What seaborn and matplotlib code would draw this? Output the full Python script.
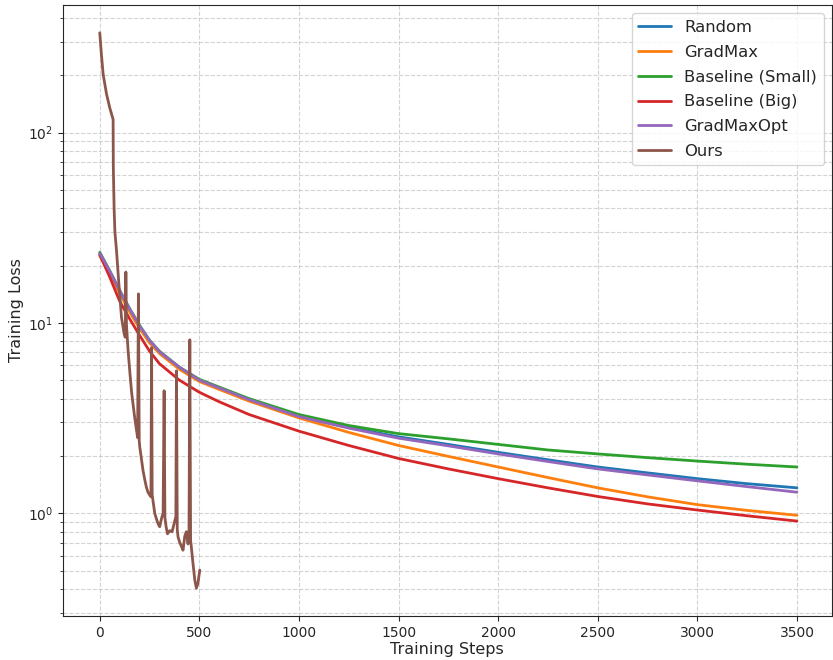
import numpy as np
import pandas as pd
import matplotlib
matplotlib.use("Agg")
import matplotlib.pyplot as plt
import seaborn as sns

methods = ["Random", "GradMax", "Baseline (Small)", "Baseline (Big)", "GradMaxOpt", "Ours"]

steps = [0, 50, 100, 150, 200, 250, 300, 400, 500, 600, 750, 1000, 1250, 1500,
         1750, 2000, 2250, 2500, 2750, 3000, 3250, 3500]

random_loss = [23.0, 18.5, 14.6, 11.7, 9.55, 8.0, 7.0, 5.8, 4.97, 4.52, 3.92, 3.22, 2.83, 2.52,
               2.30, 2.09, 1.91, 1.75, 1.63, 1.52, 1.43, 1.36]
gradmax_loss = [22.5, 18.3, 14.3, 11.4, 9.35, 7.85, 6.9, 5.7, 4.92, 4.47, 3.88, 3.17, 2.66, 2.27,
                1.99, 1.75, 1.54, 1.36, 1.22, 1.11, 1.035, 0.976]
small_loss = [23.5, 18.8, 14.8, 11.9, 9.7, 8.1, 7.1, 5.85, 5.05, 4.6, 4.0, 3.30, 2.89, 2.62,
              2.46, 2.30, 2.15, 2.05, 1.96, 1.88, 1.81, 1.75]
big_loss = [22.8, 17.4, 13.0, 10.5, 8.6, 7.1, 6.1, 5.0, 4.32, 3.85, 3.3, 2.70, 2.27, 1.94,
            1.71, 1.52, 1.36, 1.225, 1.12, 1.04, 0.97, 0.91]
gradmaxopt_loss = [23.2, 18.7, 14.8, 11.8, 9.65, 8.1, 7.05, 5.85, 5.0, 4.55, 3.95, 3.22, 2.80, 2.48,
                   2.26, 2.05, 1.87, 1.71, 1.59, 1.48, 1.38, 1.29]

ours_steps = [0, 8, 17, 34, 50, 67, 68, 72, 76, 84, 95, 109, 122, 128, 131, 134, 142,
              151, 160, 175, 184, 190, 194, 198, 201, 210, 217, 226, 234, 242, 250, 257,
              260, 263, 276, 285, 293, 301, 310, 318, 323, 327, 333, 340, 351, 363, 373,
              382, 385, 389, 393, 402, 410, 418, 427, 435, 443, 448, 452, 456, 460, 468,
              477, 485, 493, 502]
ours_loss = [334, 258, 202, 159, 135, 117, 66, 40, 30, 24, 16.5, 10.7, 8.8, 8.4, 18.5, 9.8,
             7.2, 5.5, 4.3, 3.2, 2.75, 2.5, 14.2, 2.4, 2.22, 1.9, 1.68, 1.5, 1.37, 1.29,
             1.25, 1.22, 7.4, 1.25, 1.0, 0.93, 0.88, 0.85, 0.94, 1.0, 4.4, 0.95, 0.85,
             0.78, 0.81, 0.80, 0.88, 0.96, 5.6, 0.82, 0.75, 0.70, 0.67, 0.64, 0.76, 0.80,
             0.69, 0.78, 8.15, 0.72, 0.66, 0.545, 0.446, 0.404, 0.43, 0.503]

frames = []
for name, vals in zip(methods[:5], [random_loss, gradmax_loss, small_loss, big_loss, gradmaxopt_loss]):
    frames.append(pd.DataFrame({"step": steps, "loss": vals, "method": name}))
frames.append(pd.DataFrame({"step": ours_steps, "loss": ours_loss, "method": "Ours"}))
df = pd.concat(frames, ignore_index=True)

sns.set_style("ticks")
plt.rcParams["font.family"] = ["DejaVu Sans"]

fig, ax = plt.subplots(figsize=(8.33, 6.6), dpi=100)
fig.subplots_adjust(left=0.0753, right=0.9988, top=0.9924, bottom=0.0667)

sns.lineplot(data=df, x="step", y="loss", hue="method", hue_order=methods,
             palette="tab10", linewidth=2, estimator=None, ax=ax)
ax.set_yscale("log")
ax.set_xlim(-186, 3676)
ax.grid(True, which="both", linestyle="--", color="#b0b0b0", alpha=0.55, linewidth=0.8)
ax.set_xlabel("Training Steps", fontsize=11.5, labelpad=2)
ax.set_ylabel("Training Loss", fontsize=11.5, labelpad=3)
ax.tick_params(axis="both", labelsize=10)
for s in ax.spines.values():
    s.set_visible(True)
    s.set_linewidth(0.8)

handles, labels = ax.get_legend_handles_labels()
ax.legend(handles, labels, loc="upper right", fontsize=11.8, frameon=True, labelspacing=0.6)

fig.savefig("out.png", dpi=100)
